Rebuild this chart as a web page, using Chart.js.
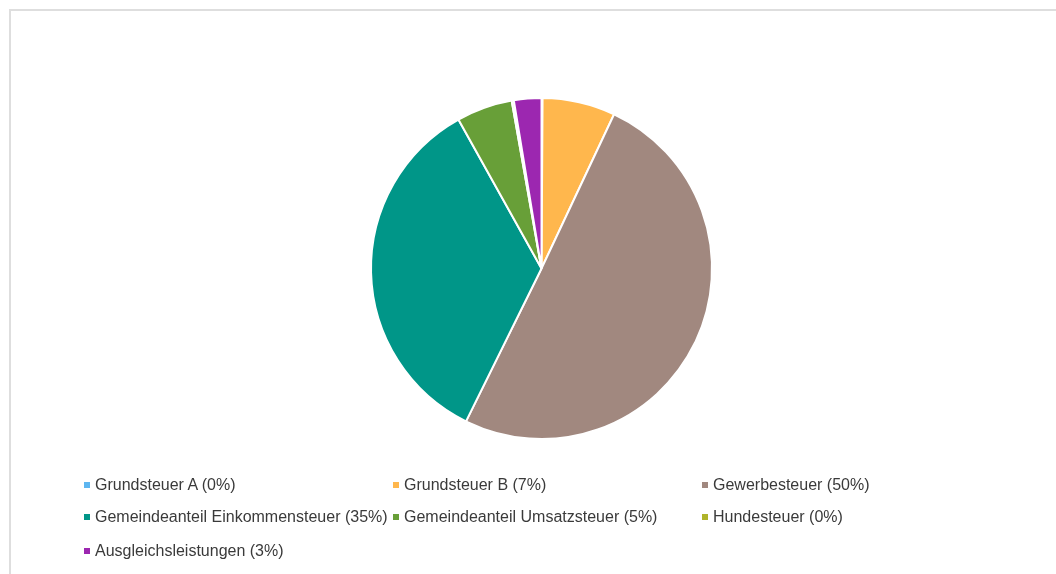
<!DOCTYPE html>
<html>
<head>
<meta charset="utf-8">
<script src="https://cdn.jsdelivr.net/npm/chart.js@4/dist/chart.umd.min.js"></script>
<style>
  html, body { margin: 0; padding: 0; background: #fff; }
  body { width: 1056px; height: 574px; position: relative; overflow: hidden; font-family: "Liberation Sans", Arial, sans-serif; }
  #frame { position: absolute; left: 9px; top: 9px; width: 1100px; height: 600px; border-top: 2px solid #dedede; border-left: 2px solid #dedede; }
  #wrap { position: absolute; left: 0; top: 0; width: 1056px; height: 574px; }
  #legend { position: absolute; left: 0; top: 0; }
  .item { position: absolute; display: flex; align-items: center; font-size: 16px; line-height: 18px; color: #3a3a3a; white-space: nowrap; }
  .mark { width: 6px; height: 6px; margin-right: 5px; margin-left: 0; }
</style>
</head>
<body>
<div id="frame"></div>
<div id="wrap"><canvas id="c" width="1056" height="574"></canvas></div>
<div id="legend"></div>
<script>
const categories = ["Grundsteuer A", "Grundsteuer B", "Gewerbesteuer", "Gemeindeanteil Einkommensteuer", "Gemeindeanteil Umsatzsteuer", "Hundesteuer", "Ausgleichsleistungen"];
const shares = [0.1, 6.9, 50.3, 34.6, 5.3, 0.2, 2.6];
const colors = ["#5DB6F0", "#FFB74D", "#A1887F", "#009688", "#689F38", "#AFB42B", "#9C27B0"];

const total = shares.reduce((a, b) => a + b, 0);
const labels = categories.map((c, i) => c + " (" + Math.round(shares[i] / total * 100) + "%)");

const chart = new Chart(document.getElementById("c"), {
  type: "pie",
  data: {
    labels: labels,
    datasets: [{
      data: shares,
      backgroundColor: colors,
      borderColor: "#ffffff",
      borderWidth: 2
    }]
  },
  options: {
    responsive: false,
    animation: false,
    events: [],
    layout: { padding: { left: 370, top: 97, right: 343, bottom: 134 } },
    plugins: { legend: { display: false }, tooltip: { enabled: false } }
  }
});

// HTML legend built from the chart's own labels and colours
const colX = [84, 393, 702];
const rowY = [476, 508, 542];
const leg = document.getElementById("legend");
chart.data.labels.forEach((lab, i) => {
  const d = document.createElement("div");
  d.className = "item";
  d.style.left = colX[i % 3] + "px";
  d.style.top = rowY[Math.floor(i / 3)] + "px";
  const m = document.createElement("span");
  m.className = "mark";
  m.style.background = chart.data.datasets[0].backgroundColor[i];
  const t = document.createElement("span");
  t.textContent = lab;
  d.appendChild(m); d.appendChild(t);
  leg.appendChild(d);
});
</script>
</body>
</html>
